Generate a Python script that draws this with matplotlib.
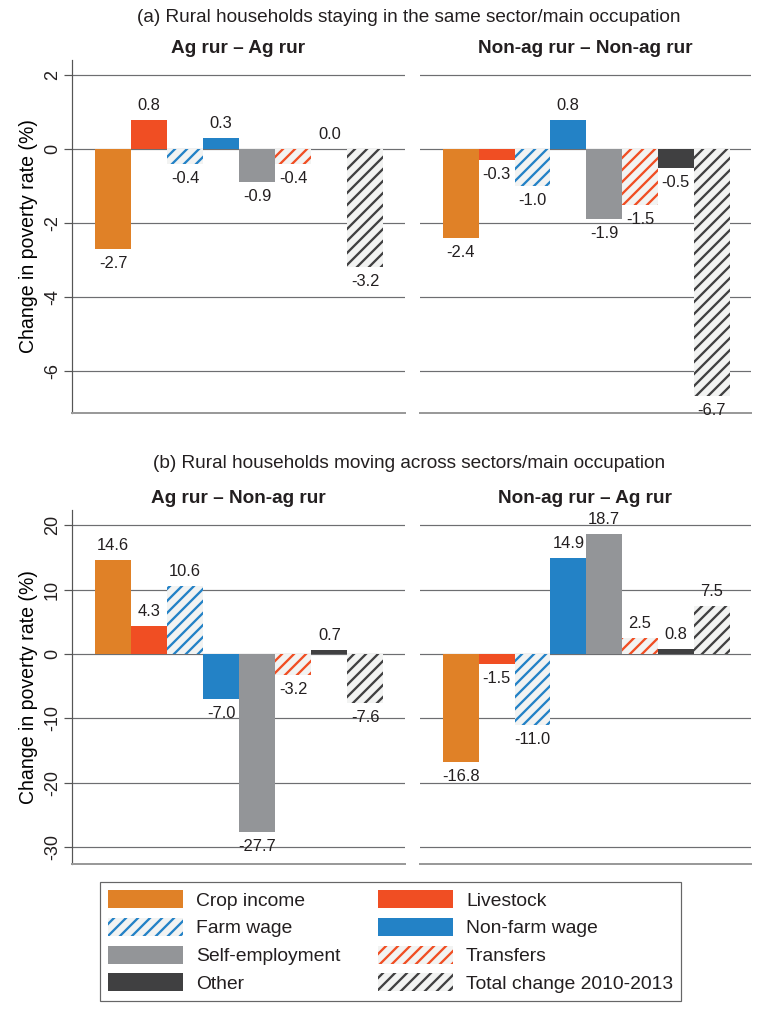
import numpy as np
import matplotlib
matplotlib.use("Agg")
import matplotlib.pyplot as plt

# ------------------------------------------------------------------
# Data: change in poverty rate (%) by income component, 2010-2013
# ------------------------------------------------------------------
components = ["Crop income", "Livestock", "Farm wage", "Non-farm wage",
              "Self-employment", "Transfers", "Other", "Total change 2010-2013"]

ag_ag = [-2.7, 0.8, -0.4, 0.3, -0.9, -0.4, 0.0, -3.2]
nonag_nonag = [-2.4, -0.3, -1.0, 0.8, -1.9, -1.5, -0.5, -6.7]
ag_nonag = [14.6, 4.3, 10.6, -7.0, -27.7, -3.2, 0.7, -7.6]
nonag_ag = [-16.8, -1.5, -11.0, 14.9, 18.7, 2.5, 0.8, 7.5]

top_ticks = [-6, -4, -2, 0, 2]
bottom_ticks = [-30, -20, -10, 0, 10, 20]

# colour + hatch per component
colors = ["#E08127", "#F04E23", "#2382C6", "#2382C6",
          "#939598", "#F04E23", "#404041", "#404041"]
hatched = [False, False, True, False, False, True, False, True]
HATCH_BG = "#F2F3F2"

TXT = "#231F20"
GRID = "#6D6E71"

plt.rcParams["font.family"] = ["Liberation Sans", "DejaVu Sans"]
plt.rcParams["hatch.linewidth"] = 2.3
plt.rcParams["text.color"] = TXT
plt.rcParams["axes.unicode_minus"] = False

W, H = 759, 1012
fig = plt.figure(figsize=(W / 72, H / 72), dpi=72)


def px_axes(x0, x1, ytop, ybot):
    return fig.add_axes([x0 / W, 1 - ybot / H, (x1 - x0) / W, (ybot - ytop) / H])


def draw_panel(ax, values, title, ylim, ticks, first):
    x = np.arange(len(values))
    bars = []
    for i, v in enumerate(values):
        if hatched[i]:
            b = ax.bar(x[i], v, width=1.0, facecolor=HATCH_BG, edgecolor=colors[i],
                       linewidth=0, hatch="//", label=components[i], zorder=3)
        else:
            b = ax.bar(x[i], v, width=1.0, color=colors[i], linewidth=0,
                       label=components[i], zorder=3)
        bars.append(b)
        off = 7 if v >= 0 else -7
        ax.annotate(f"{v:.1f}", (x[i], v), xytext=(0, off), textcoords="offset points",
                    ha="center", va="bottom" if v >= 0 else "top", fontsize=16.5)

    ax.set_xlim(-1.14, 8.1)
    ax.set_ylim(*ylim)
    ax.set_yticks(ticks)
    ax.set_xticks([])
    ax.yaxis.grid(True, color=GRID, linewidth=1.2, zorder=0)
    ax.set_axisbelow(True)
    for s in ["top", "right"]:
        ax.spines[s].set_visible(False)
    ax.spines["bottom"].set_color("#9A9A9A")
    ax.spines["bottom"].set_linewidth(2)
    if first:
        ax.spines["left"].set_color("#555555")
        ax.spines["left"].set_linewidth(1.2)
        ax.tick_params(axis="y", length=8, width=1.2, color="#555555", pad=3,
                       labelsize=18, labelrotation=90, labelcolor=TXT)
        for lab in ax.get_yticklabels():
            lab.set_va("center")
        ax.set_ylabel("Change in poverty rate (%)", fontsize=19.5, labelpad=6)
    else:
        ax.spines["left"].set_visible(False)
        ax.tick_params(axis="y", length=0, labelleft=False)
    ax.set_title(title, fontsize=19, fontweight="bold", pad=7)
    return bars


ax1 = px_axes(72, 405, 60, 413)
ax2 = px_axes(420, 751, 60, 413)
ax3 = px_axes(72, 405, 510, 864)
ax4 = px_axes(420, 751, 510, 864)

bars = draw_panel(ax1, ag_ag, "Ag rur \u2013 Ag rur", (-7.15, 2.42), top_ticks, True)
draw_panel(ax2, nonag_nonag, "Non-ag rur \u2013 Non-ag rur", (-7.15, 2.42), top_ticks, False)
draw_panel(ax3, ag_nonag, "Ag rur \u2013 Non-ag rur", (-32.66, 22.4), bottom_ticks, True)
draw_panel(ax4, nonag_ag, "Non-ag rur \u2013 Ag rur", (-32.66, 22.4), bottom_ticks, False)

xc = 409 / W
fig.text(xc, 1 - 18 / H, "(a) Rural households staying in the same sector/main occupation",
         ha="center", va="center", fontsize=19)
fig.text(xc, 1 - 463 / H, "(b) Rural households moving across sectors/main occupation",
         ha="center", va="center", fontsize=19)

# legend: two columns, filled row by row
order = [0, 2, 4, 6, 1, 3, 5, 7]
leg = fig.legend([bars[i] for i in order], [components[i] for i in order],
                 loc="upper left", bbox_to_anchor=(100 / W, 1 - 882 / H),
                 ncol=2, fontsize=19.3, frameon=True, fancybox=False,
                 handlelength=3.9, handleheight=1.06, handletextpad=0.68,
                 labelspacing=0.42, borderpad=0.42, borderaxespad=0, columnspacing=1.9)
leg.get_frame().set_edgecolor("#404041")
leg.get_frame().set_linewidth(1.2)

fig.savefig("out.png", dpi=72)
